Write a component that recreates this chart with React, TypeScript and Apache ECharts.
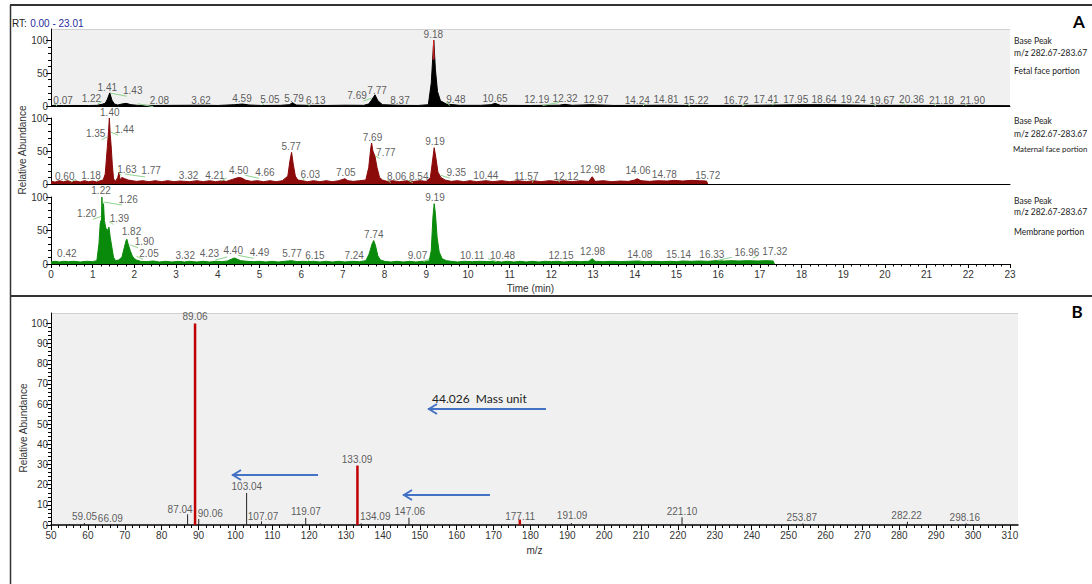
import React, { useEffect, useRef } from "react";
import * as echarts from "echarts";

// ---------- DATA ----------
// Chromatogram traces: [time (min), relative abundance]
const fetalTrace: number[][] = [
  [0.0, 0.5], [0.07, 1.0], [0.3, 0.6], [0.6, 0.8], [0.9, 0.7], [1.1, 1.0], [1.22, 2.5], [1.3, 4],
  [1.35, 10], [1.41, 20], [1.46, 9], [1.52, 3], [1.6, 1.5], [1.7, 3], [1.8, 4], [1.92, 2], [2.08, 1],
  [2.5, 0.8], [3.0, 1], [3.62, 1.2], [4.0, 0.8], [4.4, 2], [4.59, 3], [4.75, 1.5], [5.05, 0.8],
  [5.5, 1], [5.72, 2], [5.79, 5], [5.88, 1.5], [6.13, 1], [6.6, 0.8], [7.05, 1.2], [7.5, 1],
  [7.62, 3], [7.69, 9], [7.77, 17], [7.84, 8], [7.95, 2], [8.37, 1], [8.8, 0.8], [9.05, 2],
  [9.12, 35], [9.18, 100], [9.22, 55], [9.27, 22], [9.34, 8], [9.48, 3], [9.8, 1], [10.3, 1],
  [10.55, 2], [10.65, 4], [10.78, 1], [11.5, 0.8], [12.19, 1.2], [12.32, 2.5], [12.5, 1],
  [12.97, 2], [13.5, 0.8], [14.24, 1], [14.81, 1.2], [15.22, 0.8], [16.0, 0.8], [16.72, 1],
  [17.41, 1.5], [17.95, 2], [18.64, 2], [19.24, 1.5], [19.67, 1], [20.36, 1], [21.18, 0.8],
  [21.9, 1], [22.5, 0.6], [23.0, 0.5],
];
const fetalApex: number[][] = [[9.165, 70], [9.175, 100], [9.19, 72]];

const maternalTrace: number[][] = [
  [0.0, 4], [0.1, 3], [0.2, 5], [0.3, 3.5], [0.4, 5], [0.5, 3], [0.6, 4.5], [0.7, 3], [0.8, 5],
  [0.9, 3.5], [1.0, 4.5], [1.1, 3], [1.18, 5], [1.25, 6], [1.3, 15], [1.35, 55], [1.38, 80],
  [1.4, 100], [1.42, 75], [1.44, 60], [1.47, 30], [1.5, 8], [1.55, 4], [1.6, 10], [1.63, 17],
  [1.66, 6], [1.7, 10], [1.77, 8], [1.85, 6], [1.95, 5], [2.05, 4], [2.2, 5], [2.35, 3.5],
  [2.5, 5], [2.65, 3.5], [2.8, 5], [2.95, 3.5], [3.1, 4.5], [3.32, 3.5], [3.5, 5], [3.65, 3.5],
  [3.8, 5], [3.95, 3.5], [4.1, 5], [4.21, 4], [4.35, 7], [4.45, 9], [4.5, 10], [4.58, 9],
  [4.66, 6], [4.8, 4], [4.95, 5], [5.1, 3.5], [5.25, 5], [5.4, 3.5], [5.55, 5], [5.68, 12],
  [5.73, 35], [5.77, 48], [5.81, 30], [5.86, 12], [5.92, 6], [6.03, 5], [6.15, 3.5], [6.3, 5],
  [6.45, 3.5], [6.6, 5], [6.75, 3.5], [6.9, 5], [7.0, 7], [7.05, 8], [7.12, 5], [7.25, 4],
  [7.4, 5], [7.55, 6], [7.62, 25], [7.67, 55], [7.69, 62], [7.72, 50], [7.77, 42], [7.82, 25],
  [7.88, 10], [7.95, 6], [8.06, 4], [8.2, 5], [8.35, 3.5], [8.54, 5], [8.7, 4], [8.85, 5],
  [9.0, 4], [9.1, 10], [9.15, 35], [9.19, 55], [9.23, 40], [9.28, 18], [9.35, 10], [9.45, 6],
  [9.6, 4], [9.75, 5], [9.9, 3.5], [10.05, 5], [10.2, 3.5], [10.44, 5], [10.6, 3.5], [10.8, 5],
  [11.0, 3.5], [11.2, 5], [11.4, 3.5], [11.57, 5], [11.75, 3.5], [11.95, 5], [12.12, 4],
  [12.3, 5], [12.5, 3.5], [12.7, 5], [12.9, 4], [12.98, 11], [13.05, 4], [13.25, 5], [13.45, 3.5],
  [13.65, 4.5], [13.85, 4], [14.0, 6], [14.06, 8], [14.15, 5], [14.35, 4], [14.55, 5],
  [14.78, 4.5], [14.95, 5.5], [15.15, 4.5], [15.35, 5.5], [15.55, 5], [15.72, 4.5], [15.75, 0],
];

const membraneTrace: number[][] = [
  [0.0, 3], [0.1, 4], [0.2, 3], [0.3, 4], [0.42, 3.5], [0.55, 4], [0.7, 3], [0.85, 4], [1.0, 3.5],
  [1.1, 5], [1.15, 30], [1.18, 60], [1.2, 65], [1.21, 55], [1.22, 100], [1.24, 75], [1.26, 90],
  [1.28, 65], [1.31, 55], [1.34, 50], [1.37, 52], [1.39, 55], [1.42, 40], [1.46, 25], [1.5, 10],
  [1.55, 5], [1.62, 6], [1.7, 10], [1.76, 25], [1.8, 35], [1.82, 37], [1.85, 30], [1.9, 20],
  [1.95, 12], [2.0, 8], [2.05, 6], [2.15, 4], [2.3, 3.5], [2.45, 4.5], [2.6, 3], [2.75, 4],
  [2.9, 3], [3.05, 4], [3.2, 3], [3.32, 4], [3.5, 3], [3.65, 4], [3.8, 3], [3.95, 4], [4.1, 3.5],
  [4.23, 4.5], [4.32, 7], [4.4, 9], [4.47, 7], [4.55, 5], [4.7, 4], [4.85, 3.5], [5.0, 4],
  [5.15, 3], [5.3, 4], [5.45, 3], [5.6, 4], [5.77, 5], [5.9, 3.5], [6.05, 4], [6.15, 3.5],
  [6.3, 4], [6.45, 3], [6.6, 4], [6.75, 3], [6.9, 4], [7.05, 3], [7.24, 4], [7.4, 3.5], [7.55, 5],
  [7.63, 15], [7.7, 30], [7.74, 35], [7.78, 28], [7.84, 12], [7.9, 6], [8.0, 4], [8.15, 3],
  [8.3, 4], [8.45, 3], [8.6, 4], [8.75, 3], [8.9, 4], [9.07, 4.5], [9.12, 20], [9.16, 70],
  [9.19, 90], [9.22, 75], [9.26, 40], [9.31, 18], [9.38, 8], [9.48, 5], [9.6, 4], [9.75, 3],
  [9.9, 4], [10.11, 3.5], [10.3, 4], [10.48, 3.5], [10.65, 4], [10.8, 3], [10.95, 4], [11.1, 3],
  [11.25, 4], [11.4, 3], [11.55, 4], [11.7, 3], [11.85, 4], [12.0, 3.5], [12.15, 4], [12.3, 3],
  [12.5, 4], [12.7, 3.5], [12.9, 4], [12.98, 8], [13.05, 4], [13.25, 3.5], [13.45, 4],
  [13.65, 3.5], [13.85, 4], [14.08, 4.5], [14.25, 3.5], [14.45, 4], [14.65, 3.5], [14.85, 4],
  [15.0, 3.5], [15.14, 4.5], [15.35, 4], [15.55, 4.5], [15.75, 4], [15.95, 5], [16.15, 4.5],
  [16.33, 5], [16.5, 4.5], [16.7, 5], [16.96, 4.5], [17.15, 5], [17.32, 4.5], [17.35, 0],
];

// Peak labels: [text, label x (min), label y (rel. abundance)]
const fetalLabels: [string, number, number][] = [
  ["0.07", 0.29, 9], ["1.22", 0.97, 11.6], ["1.41", 1.35, 28], ["1.43", 1.96, 24], ["2.08", 2.6, 8],
  ["3.62", 3.6, 9], ["4.59", 4.58, 12], ["5.05", 5.25, 10.6], ["5.79", 5.83, 12], ["6.13", 6.35, 9],
  ["7.69", 7.34, 16.5], ["7.77", 7.82, 24], ["8.37", 8.37, 8], ["9.18", 9.17, 108.6], ["9.48", 9.71, 10],
  ["10.65", 10.65, 11.6], ["12.19", 11.65, 10], ["12.32", 12.33, 11.6], ["12.97", 13.07, 10.6],
  ["14.24", 14.06, 9], ["14.81", 14.75, 10.6], ["15.22", 15.47, 9], ["16.72", 16.43, 9],
  ["17.41", 17.15, 10.6], ["17.95", 17.86, 10.6], ["18.64", 18.54, 10.6], ["19.24", 19.24, 10.6],
  ["19.67", 19.93, 9], ["20.36", 20.64, 10.6], ["21.18", 21.36, 9], ["21.90", 22.1, 9],
];
const maternalLabels: [string, number, number][] = [
  ["0.60", 0.33, 12], ["1.18", 0.96, 13.6], ["1.35", 1.07, 76], ["1.40", 1.41, 108], ["1.44", 1.76, 83],
  ["1.63", 1.82, 22], ["1.77", 2.4, 19.7], ["3.32", 3.3, 13.6], ["4.21", 3.93, 13.6], ["4.50", 4.5, 21],
  ["4.66", 5.13, 17.7], ["5.77", 5.76, 56.6], ["6.03", 6.22, 14.6], ["7.05", 7.07, 17.7],
  ["7.69", 7.71, 70.7], ["7.77", 8.03, 47.5], ["8.06", 8.29, 11], ["8.54", 8.82, 11], ["9.19", 9.21, 64],
  ["9.35", 9.72, 17.7], ["10.44", 10.43, 13.6], ["11.57", 11.4, 11], ["12.12", 12.35, 12],
  ["12.98", 12.99, 22.7], ["14.06", 14.08, 19.7], ["14.78", 14.71, 14.6], ["15.72", 15.75, 13.6],
];
const membraneLabels: [string, number, number][] = [
  ["0.42", 0.38, 15], ["1.20", 0.86, 75.6], ["1.22", 1.2, 109], ["1.26", 1.85, 97], ["1.39", 1.64, 68],
  ["1.82", 1.93, 49], ["1.90", 2.24, 33], ["2.05", 2.35, 16], ["3.32", 3.22, 13.4], ["4.23", 3.8, 15],
  ["4.40", 4.37, 20], ["4.49", 5.0, 17.4], ["5.77", 5.78, 16], ["6.15", 6.33, 13.4], ["7.24", 7.27, 13.4],
  ["7.74", 7.74, 44], ["9.07", 8.79, 12.4], ["9.19", 9.21, 99], ["10.11", 10.1, 12.4],
  ["10.48", 10.83, 12.4], ["12.15", 12.23, 13.4], ["12.98", 12.99, 18.4], ["14.08", 14.12, 14.5],
  ["15.14", 15.05, 14.5], ["16.33", 15.85, 14.5], ["16.96", 16.69, 17.4], ["17.32", 17.36, 18.4],
];

// MS/MS spectrum sticks: [m/z, relative abundance]
const redSticks: number[][] = [[89.06, 100], [133.09, 29.5], [177.11, 2.7]];
const blackSticks: number[][] = [
  [55.1, 0.5], [59.05, 1], [66.09, 0.5], [87.04, 5.3], [90.06, 3], [103.04, 15.9], [107.07, 1.8],
  [114.5, 0.6], [119.07, 3.5], [123.0, 0.8], [134.09, 0.8], [147.06, 3.6], [191.09, 1],
  [221.1, 3.8], [253.87, 0.8], [282.22, 1.6], [298.16, 0.8],
];
const spectrumLabels: [string, number, number][] = [
  ["59.05", 59.1, 4.1], ["66.09", 66.1, 3.3], ["87.04", 85.0, 7.9], ["89.06", 89.06, 103.4],
  ["90.06", 93.2, 5.8], ["103.04", 103.1, 19], ["107.07", 107.5, 4.3], ["119.07", 119.1, 6.6],
  ["133.09", 133.0, 32.5], ["134.09", 137.9, 4.1], ["147.06", 147.3, 6.8], ["177.11", 177.2, 4.1],
  ["191.09", 191.3, 4.5], ["221.10", 221.1, 6.9], ["253.87", 253.6, 3.6], ["282.22", 282.0, 4.6],
  ["298.16", 297.8, 3.6],
];

// Tick values
const abundMajor = [0, 50, 100];
const abundMinor = [10, 20, 30, 40, 60, 70, 80, 90];
const timeTicks = [0, 1, 2, 3, 4, 5, 6, 7, 8, 9, 10, 11, 12, 13, 14, 15, 16, 17, 18, 19, 20, 21, 22, 23];
const mzMajor = [50, 60, 70, 80, 90, 100, 110, 120, 130, 140, 150, 160, 170, 180, 190, 200, 210, 220, 230, 240, 250, 260, 270, 280, 290, 300, 310];
const specYMajor = [0, 10, 20, 30, 40, 50, 60, 70, 80, 90, 100];

// ---------- STYLE ----------
const FONT = "'Liberation Sans', Arial, sans-serif";
const CAL = "Lato, 'Open Sans', sans-serif";
const TXT = "#333";
const LEADER = "#8fd48f";

function minorList(major: number[], parts: number): number[] {
  const out: number[] = [];
  for (let i = 0; i < major.length - 1; i++) {
    const step = (major[i + 1] - major[i]) / parts;
    for (let k = 1; k < parts; k++) out.push(+(major[i] + step * k).toFixed(4));
  }
  return out;
}

function yPair(grid: number, max: number, major: number[], minor: number[]) {
  return [
    {
      type: "value", gridIndex: grid, position: "left", min: 0, max,
      axisLine: { show: true, lineStyle: { color: "#000", width: 1 } },
      axisTick: { show: true, customValues: major, length: 5, lineStyle: { color: "#000" } },
      axisLabel: { show: true, customValues: major, fontSize: 10, color: TXT, fontFamily: FONT, margin: 3 },
      splitLine: { show: false },
    },
    {
      type: "value", gridIndex: grid, position: "left", min: 0, max,
      axisLine: { show: false },
      axisTick: { show: true, customValues: minor, length: 3, lineStyle: { color: "#000" } },
      axisLabel: { show: false },
      splitLine: { show: false },
    },
  ];
}

function labelSeries(xi: number, yi: number, labels: [string, number, number][]) {
  return {
    type: "scatter", xAxisIndex: xi, yAxisIndex: yi, silent: true, clip: false,
    symbolSize: 1, itemStyle: { color: "rgba(0,0,0,0)" },
    data: labels.map((l) => ({ name: l[0], value: [l[1], l[2]] })),
    label: {
      show: true, position: "inside", formatter: "{b}", fontSize: 10, color: TXT, fontFamily: FONT,
    },
    z: 5,
  };
}

function leaderSeries(xi: number, yi: number, labels: [string, number, number][]) {
  const data = labels
    .filter((l) => Math.abs(parseFloat(l[0]) - l[1]) > 0.12)
    .map((l) => [parseFloat(l[0]), l[2], l[1]]);
  return {
    type: "custom", xAxisIndex: xi, yAxisIndex: yi, silent: true, clip: false, data,
    renderItem: (_p: any, api: any) => {
      const peak = api.coord([api.value(0), api.value(1)]);
      const lab = api.coord([api.value(2), api.value(1)]);
      const dir = lab[0] > peak[0] ? 1 : -1;
      return {
        type: "line",
        shape: { x1: peak[0], y1: peak[1] + 3, x2: lab[0] - dir * 6, y2: lab[1] + 6 },
        style: { stroke: LEADER, lineWidth: 1 },
      };
    },
    z: 4,
  };
}

function traceSeries(xi: number, yi: number, data: number[][], color: string) {
  return {
    type: "line", xAxisIndex: xi, yAxisIndex: yi, data, symbol: "none", silent: true,
    lineStyle: { color, width: 1 }, areaStyle: { color, opacity: 1 }, z: 3,
  };
}

function stickSeries(data: number[][], color: string, w: number) {
  return {
    type: "custom", xAxisIndex: 3, yAxisIndex: 6, silent: true, data,
    renderItem: (_p: any, api: any) => {
      const x = api.value(0);
      const y = api.value(1);
      const p0 = api.coord([x, 0]);
      const p1 = api.coord([x, y]);
      return {
        type: "line",
        shape: { x1: p0[0], y1: p0[1], x2: p1[0], y2: p1[1] },
        style: { stroke: color, lineWidth: w },
      };
    },
    z: 4,
  };
}

function arrow(x1: number, x2: number, y: number) {
  return {
    type: "group",
    children: [
      { type: "line", shape: { x1, y1: y, x2, y2: y }, style: { stroke: "#4472C4", lineWidth: 2 } },
      {
        type: "polyline",
        shape: { points: [[x2 + 9, y - 5], [x2 + 1, y], [x2 + 9, y + 5]] },
        style: { stroke: "#4472C4", lineWidth: 2, fill: null },
      },
    ],
  };
}

function sideText(x: number, y: number, text: string, size = 8.5) {
  return {
    type: "text", x, y,
    style: { text, fontSize: size, fill: "#222", fontFamily: CAL, verticalAlign: "middle" },
  };
}

const timeAxisBase = {
  type: "value", min: 0, max: 23, interval: 1,
  axisLine: { show: true, lineStyle: { color: "#000", width: 1 } },
  axisTick: { show: false }, axisLabel: { show: false }, splitLine: { show: false },
};

const option: any = {
  animation: false,
  backgroundColor: "#fff",
  grid: [
    { left: 51, top: 29, width: 959, height: 77, show: true, backgroundColor: "#f0f0f0", borderWidth: 0 },
    { left: 51, top: 118, width: 959, height: 66 },
    { left: 51, top: 197, width: 959, height: 67 },
    { left: 51, top: 313, width: 967, height: 212, show: true, backgroundColor: "#f0f0f0", borderWidth: 0 },
  ],
  xAxis: [
    { ...timeAxisBase, gridIndex: 0 },
    { ...timeAxisBase, gridIndex: 1 },
    {
      ...timeAxisBase, gridIndex: 2,
      axisTick: { show: true, length: 4, lineStyle: { color: "#000" } },
      minorTick: { show: true, splitNumber: 5, length: 2.5, lineStyle: { color: "#000" } },
      axisLabel: { show: true, fontSize: 10, color: TXT, fontFamily: FONT, margin: 5, customValues: timeTicks },
      name: "Time (min)", nameLocation: "middle", nameGap: 19,
      nameTextStyle: { fontSize: 10, color: TXT, fontFamily: FONT },
    },
    {
      type: "value", gridIndex: 3, position: "bottom", min: 50, max: 312.2,
      axisLine: { show: true, lineStyle: { color: "#000", width: 1.5 } },
      axisTick: { show: true, customValues: mzMajor, length: 5, lineStyle: { color: "#000" } },
      axisLabel: { show: true, customValues: mzMajor, fontSize: 10, color: TXT, fontFamily: FONT, margin: 5 },
      splitLine: { show: false },
      name: "m/z", nameLocation: "middle", nameGap: 20,
      nameTextStyle: { fontSize: 10, color: TXT, fontFamily: FONT },
    },
    {
      type: "value", gridIndex: 3, position: "bottom", min: 50, max: 312.2,
      axisLine: { show: false },
      axisTick: { show: true, customValues: minorList(mzMajor, 5), length: 3, lineStyle: { color: "#000" } },
      axisLabel: { show: false }, splitLine: { show: false },
    },
  ],
  yAxis: [
    ...yPair(0, 117, abundMajor, abundMinor),
    ...yPair(1, 100, abundMajor, abundMinor),
    ...yPair(2, 100, abundMajor, abundMinor),
    ...yPair(3, 105.2, specYMajor, minorList(specYMajor, 5)),
  ],
  series: [
    traceSeries(0, 0, fetalTrace, "#000"),
    {
      type: "line", xAxisIndex: 0, yAxisIndex: 0, data: fetalApex, symbol: "none", silent: true,
      lineStyle: { color: "#e02020", width: 1 }, z: 4,
    },
    traceSeries(1, 2, maternalTrace, "#8b0a0a"),
    traceSeries(2, 4, membraneTrace, "#0a8a0a"),
    leaderSeries(0, 0, fetalLabels),
    leaderSeries(1, 2, maternalLabels),
    leaderSeries(2, 4, membraneLabels),
    labelSeries(0, 0, fetalLabels),
    labelSeries(1, 2, maternalLabels),
    labelSeries(2, 4, membraneLabels),
    stickSeries(blackSticks, "#222", 1),
    stickSeries(redSticks, "#c00000", 2.5),
    labelSeries(3, 6, spectrumLabels),
  ],
  graphic: [
    // panel frames
    { type: "line", shape: { x1: 10, y1: 5, x2: 1092, y2: 5 }, style: { stroke: "#333", lineWidth: 2 } },
    { type: "line", shape: { x1: 10.5, y1: 5, x2: 10.5, y2: 584 }, style: { stroke: "#333", lineWidth: 1.5 } },
    { type: "line", shape: { x1: 10, y1: 296, x2: 1092, y2: 296 }, style: { stroke: "#333", lineWidth: 2 } },
    // top edges of gray plot areas
    { type: "line", shape: { x1: 51, y1: 29.5, x2: 1010, y2: 29.5 }, style: { stroke: "#d0d0d0", lineWidth: 1 } },
    { type: "line", shape: { x1: 51, y1: 313.5, x2: 1018, y2: 313.5 }, style: { stroke: "#d0d0d0", lineWidth: 1 } },
    {
      type: "text", x: 12, y: 23,
      style: {
        text: "{a|RT:} {b|0.00 - 23.01}", verticalAlign: "middle",
        rich: {
          a: { fontSize: 10, fill: "#222", fontFamily: FONT },
          b: { fontSize: 10, fill: "#2a2a9a", fontFamily: FONT },
        },
      },
    },
    {
      type: "text", x: 22, y: 150, rotation: Math.PI / 2,
      style: { text: "Relative Abundance", fontSize: 10, fill: TXT, fontFamily: FONT, align: "center", verticalAlign: "middle" },
    },
    {
      type: "text", x: 23, y: 428, rotation: Math.PI / 2,
      style: { text: "Relative Abundance", fontSize: 10, fill: TXT, fontFamily: FONT, align: "center", verticalAlign: "middle" },
    },
    sideText(1014, 41, "Base Peak"),
    sideText(1014, 53, "m/z 282.67-283.67"),
    sideText(1014, 71, "Fetal face portion"),
    sideText(1014, 121, "Base Peak"),
    sideText(1014, 134, "m/z 282.67-283.67"),
    sideText(1013, 149, "Maternal face portion", 7.8),
    sideText(1014, 201, "Base Peak"),
    sideText(1014, 212, "m/z 282.67-283.67"),
    sideText(1014, 232, "Membrane portion"),
    {
      type: "text", x: 1079, y: 21,
      style: { text: "A", fontSize: 17, fontWeight: "bold", fill: "#000", fontFamily: CAL, align: "center", verticalAlign: "middle" },
    },
    {
      type: "text", x: 1077, y: 311,
      style: { text: "B", fontSize: 17, fontWeight: "bold", fill: "#000", fontFamily: CAL, align: "center", verticalAlign: "middle" },
    },
    {
      type: "text", x: 432, y: 398,
      style: { text: "44.026  Mass unit", fontSize: 12, fill: "#222", fontFamily: CAL, verticalAlign: "middle" },
    },
    arrow(546, 428, 409),
    arrow(318, 232, 475),
    arrow(490, 403, 495),
  ],
};

export default function App() {
  const ref = useRef<HTMLDivElement>(null);
  useEffect(() => {
    const chart = echarts.init(ref.current as HTMLDivElement, null, { renderer: "svg" });
    chart.setOption(option);
    return () => chart.dispose();
  }, []);
  return (
    <div
      ref={ref}
      style={{ position: "absolute", left: 0, top: 0, width: 1092, height: 584, background: "#fff" }}
    />
  );
}
